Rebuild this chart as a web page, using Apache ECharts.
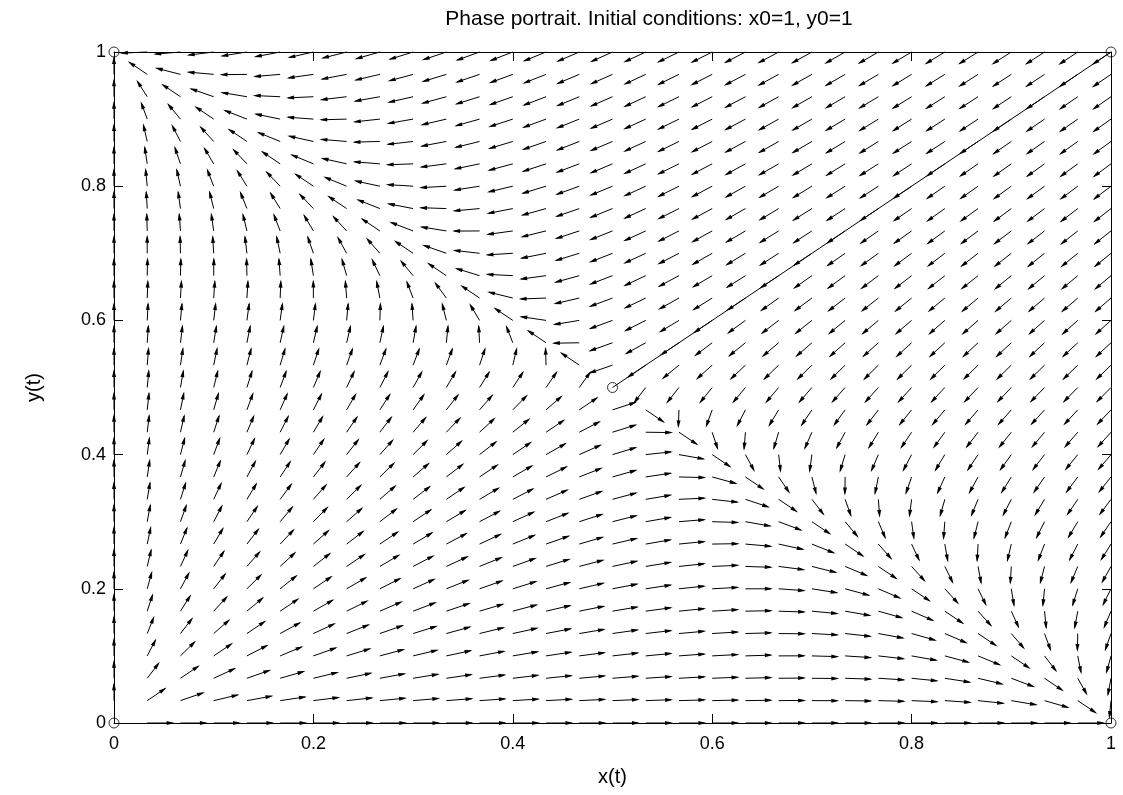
<!DOCTYPE html>
<html>
<head>
<meta charset="utf-8">
<script src="https://cdn.jsdelivr.net/npm/echarts@6/dist/echarts.min.js"></script>
<style>html,body{margin:0;padding:0;background:#fff}#chart{width:1123px;height:795px}</style>
</head>
<body>
<div id="chart"></div>
<script>
// ---- data ----
const titleText = 'Phase portrait. Initial conditions: x0=1, y0=1';
const xTicks = [0, 0.2, 0.4, 0.6, 0.8, 1];
const yTicks = [0, 0.2, 0.4, 0.6, 0.8, 1];
// model read from the field: dx/dt = x(r1 - s1*x - c1*y^2), dy/dt = y(r2 - s2*y - c2*x^2)
const growthRate = [1, 1];
const selfLimit = [1, 1];
const crossCoef = [2, 2];
const fieldSteps = 30;            // grid divisions on each axis
const arrowLength = 0.0275;       // normalised arrow length (data units)
const trajectoryX = [1, 0.75, 0.5];
const trajectoryY = [1, 0.75, 0.5];
const equilibriaX = [0, 1, 0, 0.5];
const equilibriaY = [0, 0, 1, 0.5];
const initialX = [1];
const initialY = [1];

// ---- build ----
const gridVals = Array.from({length: fieldSteps + 1}, (_, i) => i / fieldSteps);
const arrows = [];
gridVals.forEach(x => {
  gridVals.forEach(y => {
    const u = x * (growthRate[0] - selfLimit[0] * x - crossCoef[0] * y * y);
    const v = y * (growthRate[1] - selfLimit[1] * y - crossCoef[1] * x * x);
    const m = Math.hypot(u, v);
    if (m < 1e-9) return;
    arrows.push([x, y, x + u / m * arrowLength, y + v / m * arrowLength]);
  });
});
const traj = trajectoryX.map((x, i) => [x, trajectoryY[i]]);
const circles = equilibriaX.map((x, i) => [x, equilibriaY[i]])
  .concat(initialX.map((x, i) => [x, initialY[i]]));

const FONT = 'Liberation Sans';
const axisCommon = {
  type: 'value', min: 0, max: 1, interval: 0.2,
  splitLine: {show: false},
  axisLine: {show: true, onZero: false, lineStyle: {color: '#000', width: 1}},
  axisTick: {show: true, inside: true, length: 9, lineStyle: {color: '#000', width: 1}},
};

const chart = echarts.init(document.getElementById('chart'), null, {renderer: 'canvas'});
chart.setOption({
  backgroundColor: '#fff',
  animation: false,
  title: {
    text: titleText, left: 644, top: 4, textAlign: 'center',
    textStyle: {fontFamily: FONT, fontSize: 21, fontWeight: 'normal', color: '#000'}
  },
  grid: {left: 114, right: 12, top: 52, bottom: 72, containLabel: false},
  xAxis: [
    Object.assign({}, axisCommon, {
      position: 'bottom',
      name: 'x(t)', nameLocation: 'middle', nameGap: 44,
      nameTextStyle: {fontFamily: FONT, fontSize: 20, color: '#000'},
      axisLabel: {color: '#000', fontFamily: FONT, fontSize: 18, margin: 12,
        formatter: v => xTicks.includes(+v.toFixed(1)) ? String(+v.toFixed(1)) : ''}
    }),
    Object.assign({}, axisCommon, {position: 'top', axisLabel: {show: false}})
  ],
  yAxis: [
    Object.assign({}, axisCommon, {
      position: 'left',
      name: 'y(t)', nameLocation: 'middle', nameGap: 70, nameRotate: 90,
      nameTextStyle: {fontFamily: FONT, fontSize: 20, color: '#000'},
      axisLabel: {color: '#000', fontFamily: FONT, fontSize: 18, margin: 8,
        formatter: v => yTicks.includes(+v.toFixed(1)) ? String(+v.toFixed(1)) : ''}
    }),
    Object.assign({}, axisCommon, {position: 'right', axisLabel: {show: false}})
  ],
  series: [
    {
      type: 'custom', xAxisIndex: 0, yAxisIndex: 0, clip: false, silent: true,
      data: arrows,
      renderItem: function (params, api) {
        const p0 = api.coord([api.value(0), api.value(1)]);
        const p1 = api.coord([api.value(2), api.value(3)]);
        const dx = p1[0] - p0[0], dy = p1[1] - p0[1];
        const len = Math.hypot(dx, dy);
        if (len < 0.5) return null;
        const ux = dx / len, uy = dy / len;
        const hl = Math.min(8, len * 0.6), hw = 2;
        const bx = p1[0] - ux * hl, by = p1[1] - uy * hl;
        return {
          type: 'group',
          children: [
            {type: 'line', shape: {x1: p0[0], y1: p0[1], x2: p1[0] - ux * 2, y2: p1[1] - uy * 2},
             style: {stroke: '#000', lineWidth: 1}},
            {type: 'polygon', shape: {points: [
                [p1[0], p1[1]],
                [bx - uy * hw, by + ux * hw],
                [bx + uy * hw, by - ux * hw]]},
             style: {fill: '#000', lineWidth: 0}}
          ]
        };
      }
    },
    {
      type: 'line', data: traj, showSymbol: false, silent: true,
      lineStyle: {color: '#000', width: 1}, z: 3
    },
    {
      type: 'scatter', data: circles, symbol: 'circle', symbolSize: 10, silent: true,
      itemStyle: {color: 'rgba(0,0,0,0)', borderColor: '#000', borderWidth: 1}, z: 4
    }
  ]
});
</script>
</body>
</html>
